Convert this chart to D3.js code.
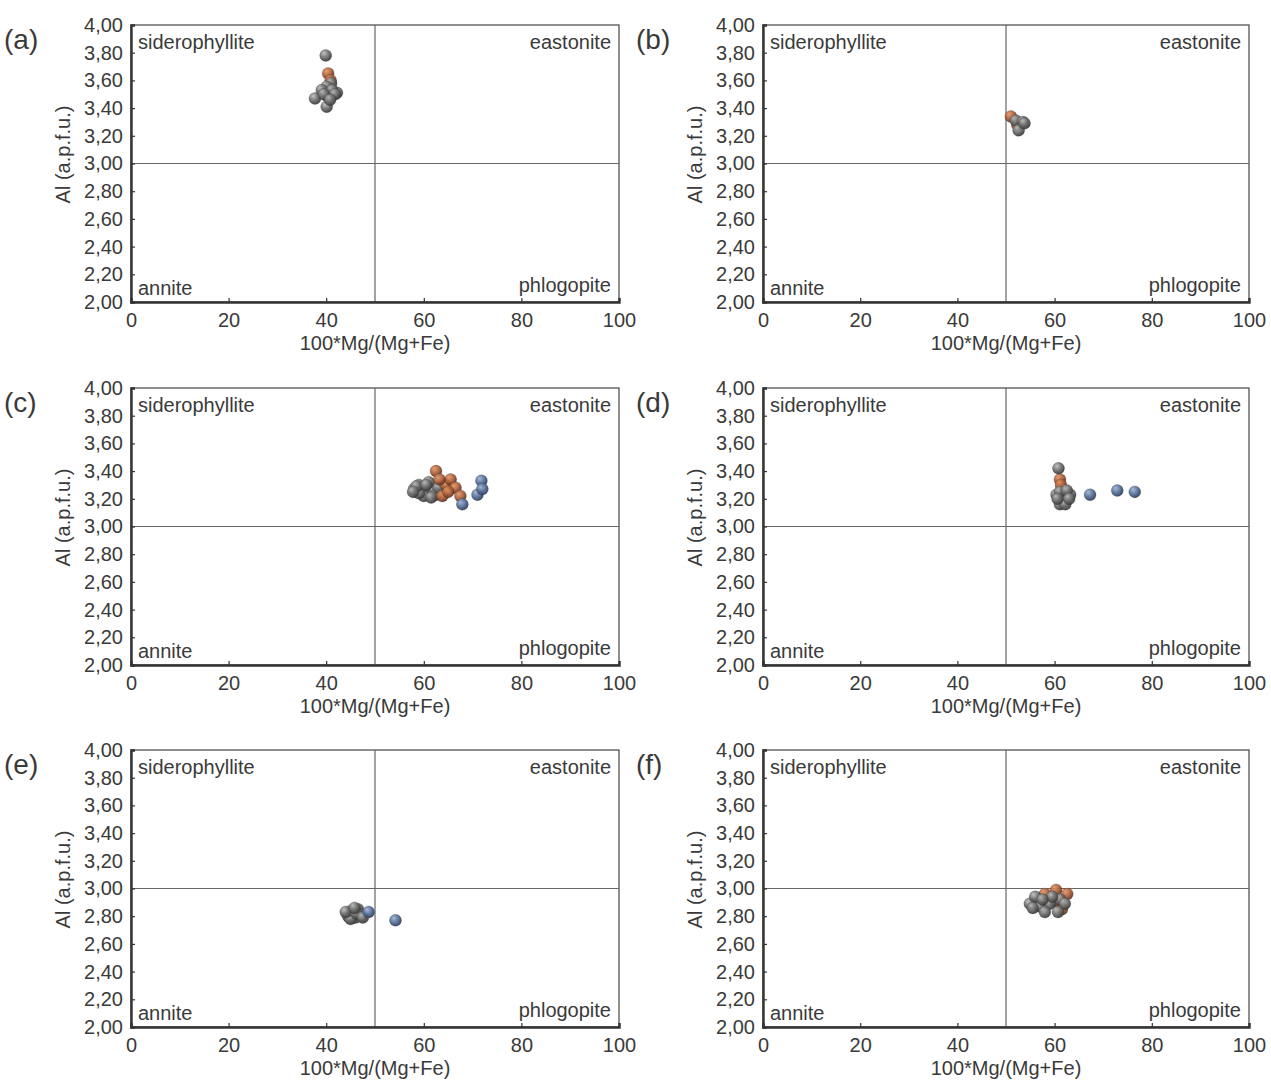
<!DOCTYPE html>
<html><head><meta charset="utf-8">
<script src="https://cdn.jsdelivr.net/npm/d3@7"></script>
<style>
html,body{margin:0;padding:0;background:#fff;}
text{font-family:"Liberation Sans",Arial,sans-serif;fill:#3a3a3a;}
</style></head>
<body>
<svg id="chart" width="1271" height="1080"></svg>
<script>
// ---- data ----
const panelLabels = ["(a)","(b)","(c)","(d)","(e)","(f)"];
const xTicks = [0,20,40,60,80,100];
const yTicks = [2.0,2.2,2.4,2.6,2.8,3.0,3.2,3.4,3.6,3.8,4.0];
const cornerLabels = ["siderophyllite","eastonite","annite","phlogopite"];
const xTitle = "100*Mg/(Mg+Fe)";
const yTitle = "Al (a.p.f.u.)";

// each point: [100*Mg/(Mg+Fe), Al]
const aGray  = [[39.9,3.78],[41.0,3.58],[40.1,3.555],[39.1,3.53],[42.2,3.51],[37.7,3.47],[40.4,3.48],[40.1,3.41],[41.2,3.53],[41.8,3.50],[39.5,3.50],[40.8,3.46]];
const aBrown = [[40.4,3.65],[40.9,3.60]];
const aBlue  = [];

const bGray  = [[52.0,3.31],[53.5,3.30],[52.6,3.24],[53.8,3.29]];
const bBrown = [[51.0,3.34],[52.3,3.28]];
const bBlue  = [];

const cGray  = [[58,3.27],[59,3.30],[60,3.25],[61,3.28],[60,3.22],[62,3.26],[59,3.24],[61,3.32],[62.5,3.23],[58.5,3.29],[60.5,3.30],[63,3.28],[57.8,3.25],[61.5,3.21]];
const cBrown = [[62.5,3.40],[64.5,3.30],[63.8,3.22],[65.5,3.34],[66.5,3.28],[67.5,3.22],[63.2,3.34],[65.0,3.25]];
const cBlue  = [[67.9,3.16],[71.0,3.23],[71.8,3.33],[72.0,3.27]];

const dGray  = [[60.8,3.42],[60.4,3.23],[63.2,3.23],[61.8,3.18],[61.1,3.25],[62.5,3.26],[61.1,3.16],[62.2,3.16],[60.6,3.20],[63.0,3.20]];
const dBrown = [[61.1,3.34],[61.3,3.30]];
const dBlue  = [[67.3,3.23],[72.9,3.26],[76.5,3.25]];

const eGray  = [[44.5,2.80],[45.2,2.84],[46.0,2.79],[46.5,2.85],[45.0,2.78],[47.0,2.81],[44.0,2.83],[46.2,2.82],[47.5,2.79],[45.8,2.86]];
const eBrown = [[44.8,2.79],[46.3,2.84],[47.2,2.80]];
const eBlue  = [[48.7,2.83],[54.2,2.77]];

const fGray  = [[54.9,2.89],[57.0,2.87],[59.0,2.89],[61.1,2.92],[62.1,2.89],[56.0,2.94],[58.0,2.83],[60.7,2.83],[59.5,2.94],[55.5,2.86],[57.5,2.92]];
const fBrown = [[58.0,2.96],[60.3,2.99],[61.5,2.85],[62.6,2.96],[60.0,2.91]];
const fBlue  = [];

// draw order within each panel: brown, gray, blue
const panelData = [
  [aBrown,aGray,aBlue],[bBrown,bGray,bBlue],[cGray,cBrown,cBlue],
  [dBrown,dGray,dBlue],[eBrown,eGray,eBlue],[fBrown,fGray,fBlue]
];
const panelColorIds = [
  ["gBrown","gGray","gBlue"],["gBrown","gGray","gBlue"],["gGray","gBrown","gBlue"],
  ["gBrown","gGray","gBlue"],["gBrown","gGray","gBlue"],["gBrown","gGray","gBlue"]
];

// ---- layout ----
const svg = d3.select("#chart");
const colLeft = [131, 763];
const rowTop = [25, 388, 750];
const W = [488, 486], H = 277;
const FS = "20px";

const seriesColors = [
  {id:"gGray",  hi:"#bdbdbd", mid:"#6e6e6e", lo:"#383838"},
  {id:"gBrown", hi:"#e09868", mid:"#b0603a", lo:"#5e3220"},
  {id:"gBlue",  hi:"#9fb4d2", mid:"#56709a", lo:"#2c3c58"}
];
const defs = svg.append("defs");
seriesColors.forEach(c=>{
  const g = defs.append("radialGradient").attr("id",c.id)
    .attr("cx","40%").attr("cy","35%").attr("r","65%").attr("fx","35%").attr("fy","30%");
  g.append("stop").attr("offset","0%").attr("stop-color",c.hi);
  g.append("stop").attr("offset","55%").attr("stop-color",c.mid);
  g.append("stop").attr("offset","100%").attr("stop-color",c.lo);
});

const fmt = d => d3.format(".2f")(d).replace(".",",");

panelData.forEach((series,i)=>{
  const col = i%2, row = Math.floor(i/2);
  const left = colLeft[col], top = rowTop[row], w = W[col];
  const x = d3.scaleLinear().domain([0,100]).range([left,left+w]);
  const y = d3.scaleLinear().domain([2,4]).range([top+H,top]);
  const g = svg.append("g");

  // frame
  g.append("rect").attr("x",left).attr("y",top).attr("width",w).attr("height",H)
    .attr("fill","none").attr("stroke","#444").attr("stroke-width",1.2);
  // divider lines
  g.append("line").attr("x1",x(50)).attr("x2",x(50)).attr("y1",top).attr("y2",top+H)
    .attr("stroke","#666").attr("stroke-width",1.2);
  g.append("line").attr("x1",left).attr("x2",left+w).attr("y1",y(3)).attr("y2",y(3))
    .attr("stroke","#666").attr("stroke-width",1.2);

  // axes
  const ya = g.append("g").attr("transform",`translate(${left},0)`)
    .call(d3.axisLeft(y).tickValues(yTicks).tickFormat(fmt).tickSize(-4).tickPadding(8));
  const xa = g.append("g").attr("transform",`translate(0,${top+H})`)
    .call(d3.axisBottom(x).tickValues(xTicks).tickSize(-4).tickPadding(11));
  [ya,xa].forEach(a=>{
    a.select(".domain").attr("stroke","#333").attr("stroke-width",2.4);
    a.selectAll(".tick line").attr("stroke","#333").attr("stroke-width",1.2);
    a.selectAll(".tick text").style("font-family",'"Liberation Sans",Arial,sans-serif')
      .style("font-size",FS).attr("fill","#3a3a3a");
  });

  // titles
  g.append("text").attr("x",left+w/2).attr("y",top+H+48).attr("text-anchor","middle")
    .style("font-size",FS).text(xTitle);
  g.append("text").attr("transform",`translate(${left-66},${top+H/2-9}) rotate(-90)`)
    .attr("text-anchor","middle").attr("dominant-baseline","middle")
    .style("font-size",FS).text(yTitle);
  g.append("text").attr("x",left-127).attr("y",top+24)
    .style("font-size","28px").text(panelLabels[i]);

  // corner labels
  g.append("text").attr("x",left+7).attr("y",top+24).style("font-size",FS).text(cornerLabels[0]);
  g.append("text").attr("x",left+w-8).attr("y",top+24).attr("text-anchor","end").style("font-size",FS).text(cornerLabels[1]);
  g.append("text").attr("x",left+7).attr("y",top+H-7).style("font-size",FS).text(cornerLabels[2]);
  g.append("text").attr("x",left+w-8).attr("y",top+H-10).attr("text-anchor","end").style("font-size",FS).text(cornerLabels[3]);

  // points
  series.forEach((pts,s)=>{
    g.selectAll(null).data(pts).enter().append("circle")
      .attr("cx",d=>x(d[0])).attr("cy",d=>y(d[1])).attr("r",6)
      .attr("fill",`url(#${panelColorIds[i][s]})`)
      .attr("fill-opacity",0.92)
      .attr("stroke","rgba(40,40,40,0.35)").attr("stroke-width",0.6);
  });
});
</script>
</body></html>
